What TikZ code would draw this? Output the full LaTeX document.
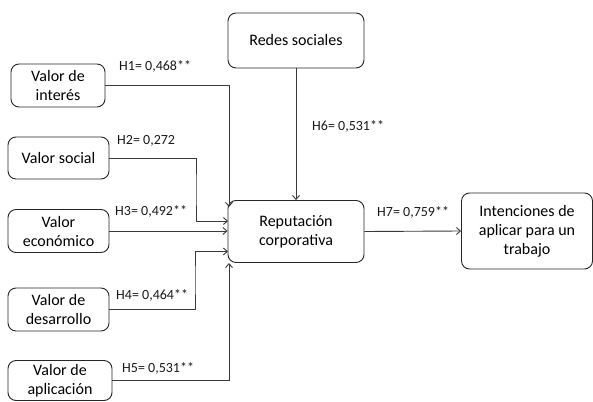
\documentclass[tikz,border=0pt]{standalone}
\usepackage{fontspec}
\setmainfont{Carlito}
\usetikzlibrary{arrows.meta}
\definecolor{lc}{HTML}{3A3A3A}
\tikzset{
  box/.style={draw=black!85, line width=0.9pt, rounded corners=8pt, align=center,
    font=\fontsize{16}{19}\selectfont, inner sep=1pt},
  arr/.style={draw=lc, line width=0.9pt, -{Straight Barb[length=4pt,width=7pt,line width=0.9pt]}},
  lbl/.style={font=\fontsize{14}{16}\selectfont, text=black!90, inner sep=0pt}
}
\begin{document}
\begin{tikzpicture}[x=1pt,y=1pt]
\useasboundingbox (0,0) rectangle (593,-401);
% nodes
\node[box, minimum width=94pt, minimum height=43pt] (int) at (58,-85.5) {Valor de\\interés};
\node[box, minimum width=101pt, minimum height=42pt] (soc) at (58.5,-158) {Valor social};
\node[box, minimum width=101pt, minimum height=43pt] (eco) at (58.5,-231) {Valor\\económico};
\node[box, minimum width=101pt, minimum height=43pt] (des) at (58.5,-309.5) {Valor de\\desarrollo};
\node[box, minimum width=104pt, minimum height=40pt] (apl) at (60,-380.5) {Valor de\\aplicación};
\node[box, minimum width=136pt, minimum height=55pt] (red) at (296,-40.5) {Redes sociales};
\node[box, minimum width=136pt, minimum height=62pt] (rep) at (296,-231.5) {Reputación\\corporativa};
\node[box, minimum width=131pt, minimum height=76pt] (itn) at (527,-231) {Intenciones de\\aplicar para un\\trabajo};
% connector ends
\coordinate (h1e) at (229,-207);
\coordinate (h5e) at (229,-263);
\coordinate (h2e) at (228,-221);
\coordinate (h4e) at (228,-251.5);
% connectors
\draw[arr] (int.east) -| (h1e);
\draw[arr] (soc.east) -| (196,-190) |- (h2e);
\draw[arr] (eco.east) -- (eco.east -| rep.west);
\draw[arr] (des.east) -| (195,-280) |- (h4e);
\draw[arr] (apl.east) -| (h5e);
\draw[arr] (red.south) -- (rep.north);
\draw[arr] (rep.east) -- (itn.west);
% labels
\node[lbl, anchor=west] (l1) at (119,-66) {H1= 0,468**};
\node[lbl, anchor=west] (l2) at (117,-141) {H2= 0,272};
\node[lbl, anchor=west] (l3) at (115,-211) {H3= 0,492**};
\node[lbl, anchor=west] (l4) at (116,-295) {H4= 0,464**};
\node[lbl, anchor=west] (l5) at (122,-368) {H5= 0,531**};
\node[lbl, anchor=west] (l6) at (312,-126) {H6= 0,531**};
\node[lbl, anchor=west] (l7) at (377,-212) {H7= 0,759**};
\end{tikzpicture}
\end{document}
